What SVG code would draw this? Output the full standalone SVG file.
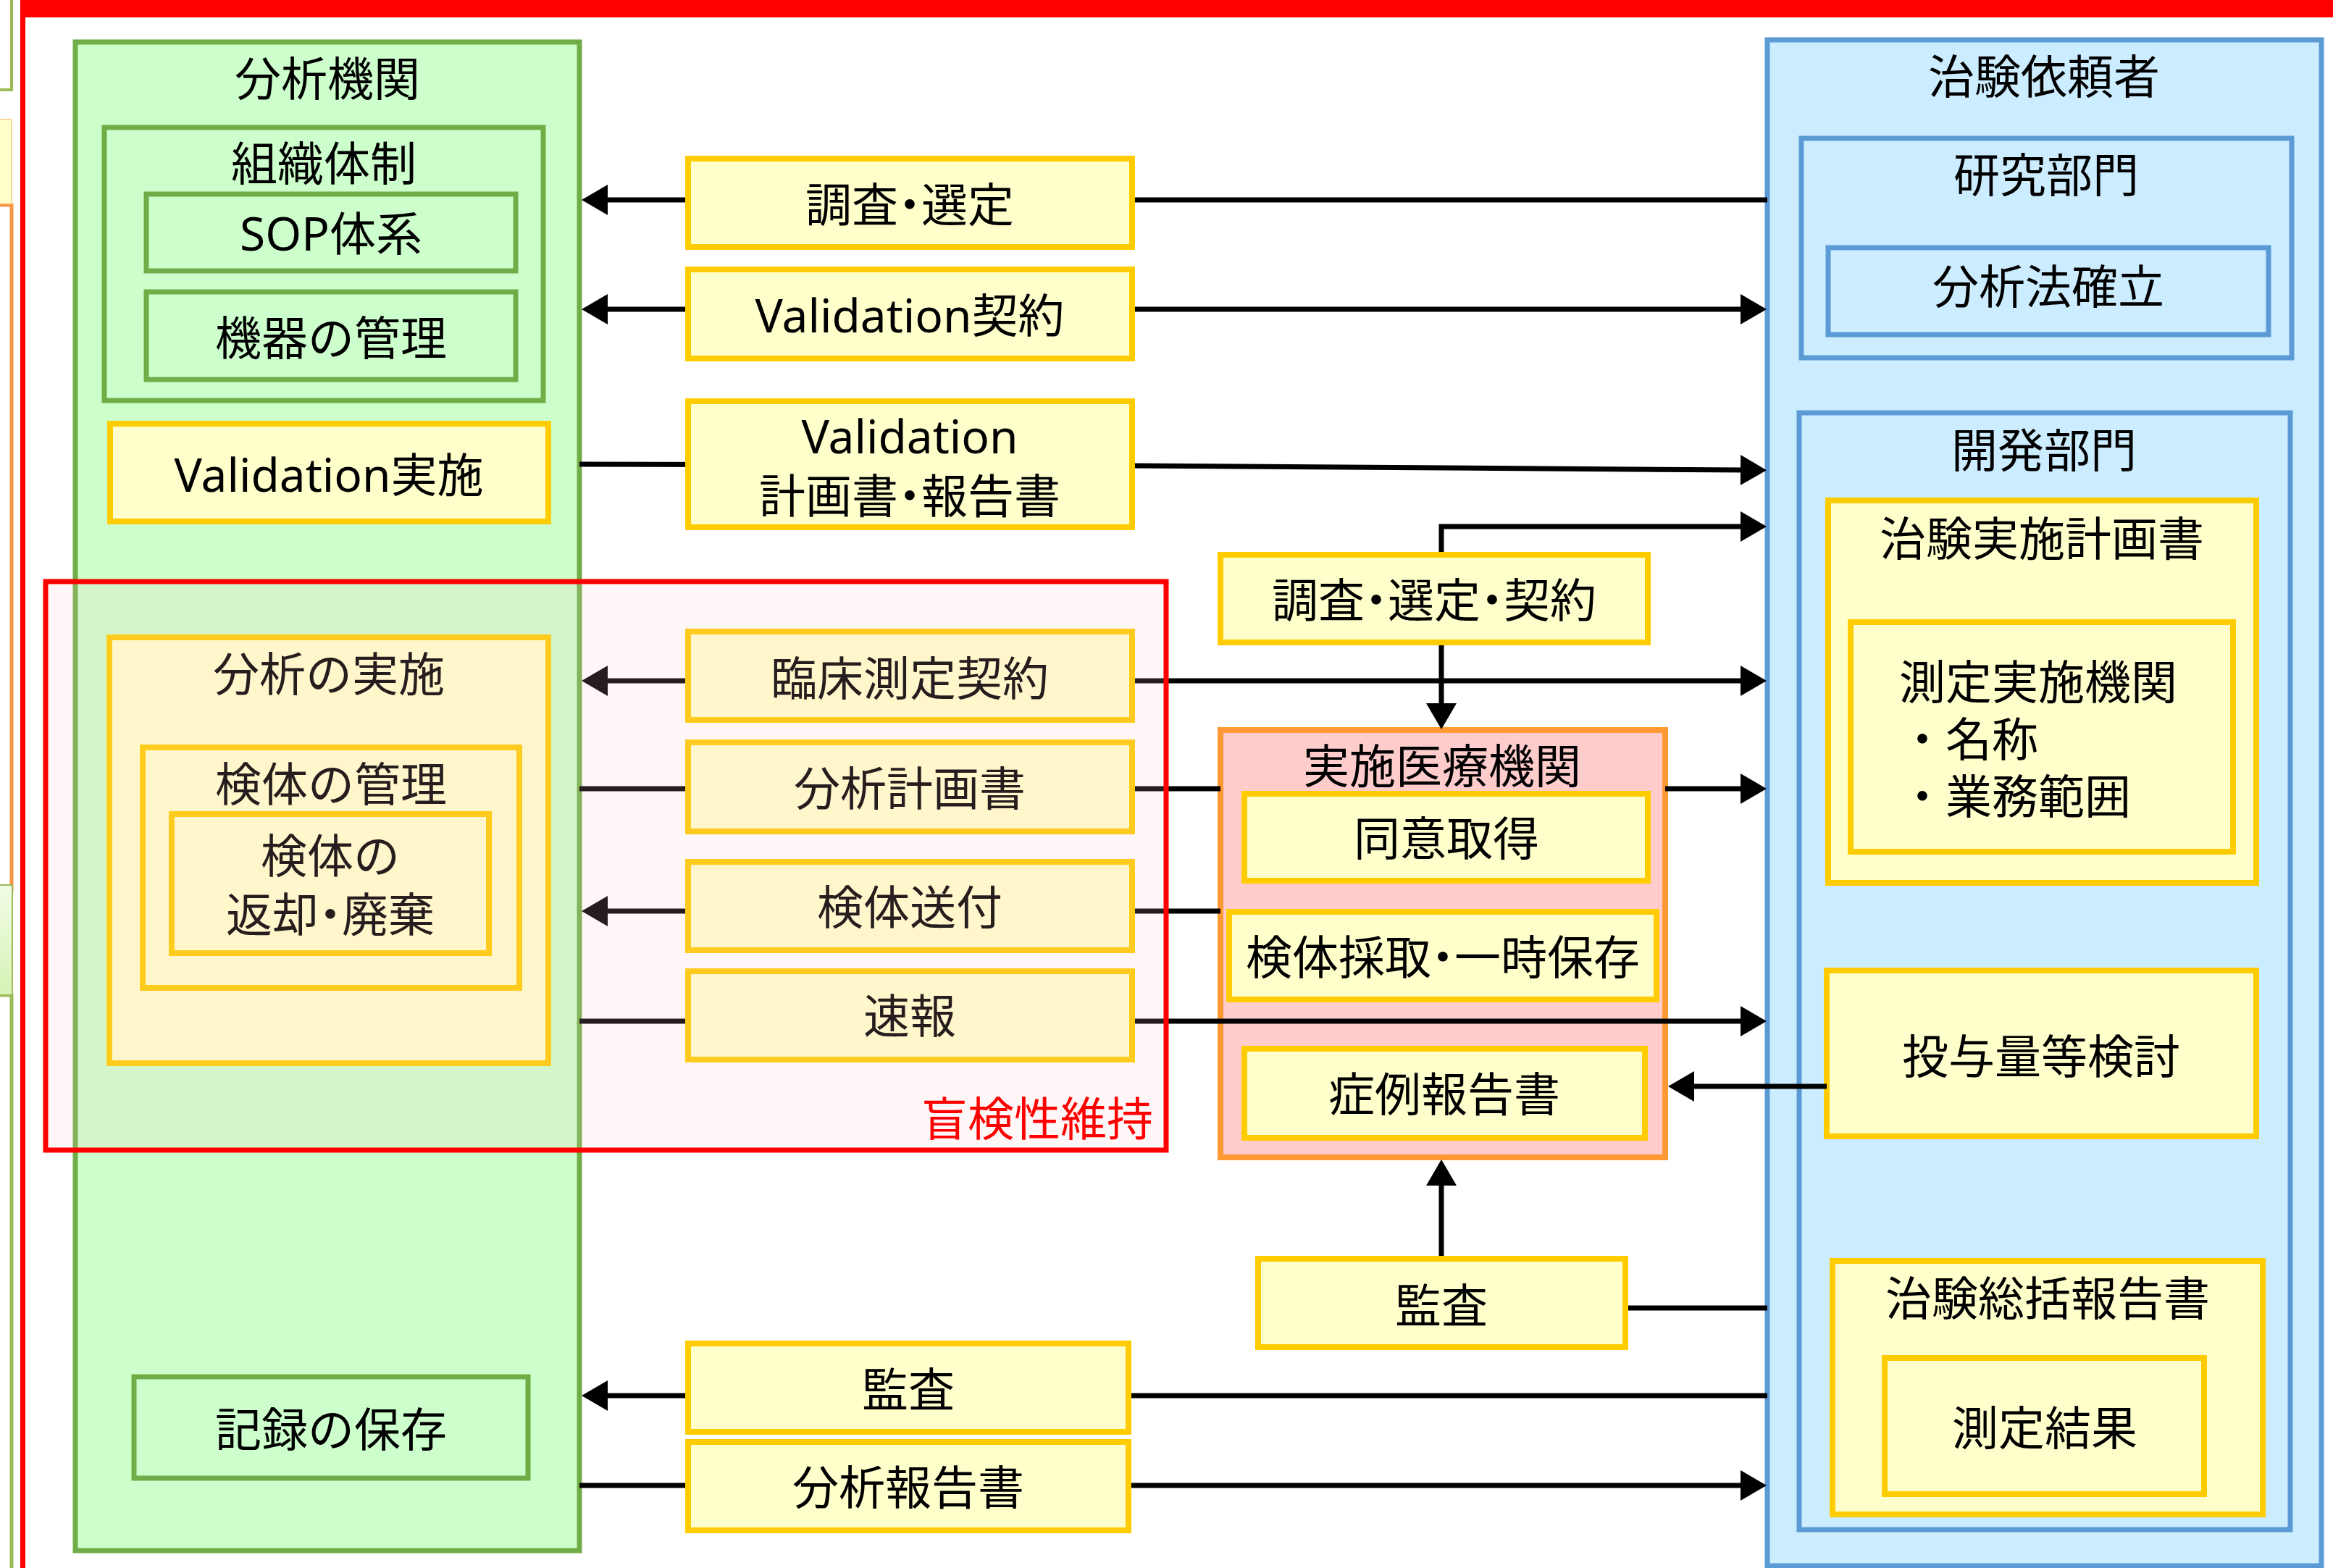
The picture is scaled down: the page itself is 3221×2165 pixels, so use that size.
<svg xmlns="http://www.w3.org/2000/svg" width="3221" height="2165" viewBox="0 0 3221 2165">
<style>
.t{font-family:"Noto Sans","Noto Sans CJK JP",sans-serif;font-size:64px;fill:#000;text-anchor:middle;dominant-baseline:central}
.p{font-feature-settings:"palt"}
.ts{text-anchor:start}
.g{fill:#CCFFCC;stroke:#70AD47;stroke-width:7}
.y{fill:#FFFFCC;stroke:#FFCC00;stroke-width:8}
.b{fill:#CCECFF;stroke:#5B9BD5;stroke-width:7}
.o{fill:#FFCCCC;stroke:#FF9933;stroke-width:8}
.c{fill:none;stroke:#000;stroke-width:7}
.a{marker-end:url(#ah)}
.a2{marker-start:url(#ah);marker-end:url(#ah)}
</style>
<defs>
<marker id="ah" markerUnits="userSpaceOnUse" markerWidth="40" markerHeight="42" refX="6" refY="21" orient="auto-start-reverse" overflow="visible"><path d="M0,0 L36,21 L0,42 z" fill="#000"/></marker>
<linearGradient id="lg" x1="0" y1="0" x2="0" y2="1"><stop offset="0" stop-color="#F2FCE6"/><stop offset="1" stop-color="#D6F3B5"/></linearGradient>
</defs>
<rect x="0" y="0" width="3221" height="2165" fill="#fff"/>
<g id="edge-fragments">
<rect x="-100" y="-20" width="116" height="144" fill="#fff" stroke="#9BBB59" stroke-width="4"/>
<rect x="-100" y="283" width="116" height="947" fill="#fff" stroke="#F79646" stroke-width="5"/>
<rect x="-20" y="165" width="36" height="116" fill="#FFFFCC" stroke="#FAD89A" stroke-width="2"/>
<rect x="-100" y="1374" width="116" height="900" fill="#fff" stroke="#9BBB59" stroke-width="5"/>
<rect x="-20" y="1222" width="37" height="152" fill="url(#lg)" stroke="#9BBB59" stroke-width="2"/>
</g>
<g id="frame">
<rect x="28" y="-10" width="3210" height="34" fill="#FF0000"/>
<rect x="28" y="0" width="7" height="2165" fill="#FF0000"/>
</g>
<g id="bunseki-kikan"><rect class="g" x="104" y="58" width="696" height="2083"/><text class="t" x="452" y="107">分析機関</text></g>
<g id="soshiki-taisei"><rect class="g" x="144" y="176" width="606" height="377"/><text class="t" x="447" y="224">組織体制</text></g>
<g id="sop"><rect class="g" x="202" y="268" width="510" height="106"/><text class="t" x="457" y="321">SOP体系</text></g>
<g id="kiki-kanri"><rect class="g" x="202" y="403" width="510" height="121"/><text class="t" x="457" y="465">機器の管理</text></g>
<g id="validation-jisshi"><rect class="y" x="152" y="585" width="605" height="135"/><text class="t" x="454" y="654">Validation実施</text></g>
<g id="bunseki-jisshi"><rect class="y" x="151" y="880" width="606" height="588"/><text class="t" x="454" y="929">分析の実施</text></g>
<g id="kentai-kanri"><rect class="y" x="197" y="1032" width="520" height="332"/><text class="t" x="457" y="1081">検体の管理</text></g>
<g id="kentai-henkyaku"><rect class="y" x="237" y="1124" width="438" height="192"/><text class="t" x="456" y="1180">検体の</text><text class="t p" x="456" y="1261">返却・廃棄</text></g>
<g id="kiroku"><rect class="g" x="185" y="1901" width="544" height="140"/><text class="t" x="457" y="1972">記録の保存</text></g>
<g id="chiken-iraisha"><rect class="b" x="2440" y="55" width="765" height="2107"/><text class="t" x="2822" y="104">治験依頼者</text></g>
<g id="kenkyu-bumon"><rect class="b" x="2487" y="191" width="677" height="303"/><text class="t" x="2825" y="240">研究部門</text></g>
<g id="bunsekiho"><rect class="b" x="2524" y="342" width="608" height="120"/><text class="t" x="2828" y="394">分析法確立</text></g>
<g id="kaihatsu-bumon"><rect class="b" x="2484" y="570" width="678" height="1542"/><text class="t" x="2822" y="620">開発部門</text></g>
<g id="protocol"><rect class="y" x="2524" y="691" width="591" height="528"/><text class="t" x="2819" y="742">治験実施計画書</text></g>
<g id="sokutei-kikan"><rect class="y" x="2555" y="859" width="528" height="317"/><text class="t ts" x="2622" y="940">測定実施機関</text><text class="t ts" x="2622" y="1019">・名称</text><text class="t ts" x="2622" y="1098">・業務範囲</text></g>
<g id="toyoryo"><rect class="y" x="2522" y="1340" width="593" height="229"/><text class="t" x="2818" y="1457">投与量等検討</text></g>
<g id="sokatsu"><rect class="y" x="2530" y="1741" width="594" height="350"/><text class="t" x="2827" y="1791">治験総括報告書</text></g>
<g id="sokutei-kekka"><rect class="y" x="2602" y="1875" width="441" height="188"/><text class="t" x="2823" y="1970">測定結果</text></g>
<g id="jisshi-iryo"><rect class="o" x="1685" y="1008" width="614" height="590"/><text class="t" x="1991" y="1056">実施医療機関</text></g>
<g id="doi"><rect class="y" x="1718" y="1096" width="557" height="120"/><text class="t" x="1997" y="1156">同意取得</text></g>
<g id="kentai-saishu"><rect class="y" x="1697" y="1259" width="590" height="121"/><text class="t p" x="1992" y="1320">検体採取・一時保存</text></g>
<g id="shorei"><rect class="y" x="1718" y="1448" width="553" height="123"/><text class="t" x="1994" y="1509">症例報告書</text></g>
<g id="connectors">
<path class="c a" d="M2440,276 H833"/>
<path class="c a2" d="M833,427 H2409"/>
<path class="c a" d="M800,641 L1563,643 L2409,649"/>
<path class="c a" d="M1990,766 V727 H2409"/>
<path class="c a" d="M1990,887 V977"/>
<path class="c a2" d="M833,940 H2409"/>
<path class="c" d="M800,1089 H1685"/>
<path class="c a" d="M2299,1089 H2409"/>
<path class="c a" d="M1685,1258 H833"/>
<path class="c a" d="M800,1410 H2409"/>
<path class="c a" d="M2522,1500 H2333"/>
<path class="c a" d="M1990,1738 V1631"/>
<path class="c" d="M2244,1806 H2440"/>
<path class="c a" d="M2440,1927 H833"/>
<path class="c a" d="M800,2051 H2409"/>
</g>
<g id="chosa-sentei"><rect class="y" x="950" y="219" width="613" height="122"/><text class="t p" x="1256" y="281">調査・選定</text></g>
<g id="validation-keiyaku"><rect class="y" x="950" y="372" width="613" height="123"/><text class="t" x="1256" y="434">Validation契約</text></g>
<g id="validation-keikaku"><rect class="y" x="950" y="554" width="613" height="174"/><text class="t" x="1256" y="601">Validation</text><text class="t p" x="1256" y="683">計画書・報告書</text></g>
<g id="chosa-sentei-keiyaku"><rect class="y" x="1685" y="766" width="590" height="121"/><text class="t p" x="1980" y="827">調査・選定・契約</text></g>
<g id="rinsho-keiyaku"><rect class="y" x="950" y="872" width="613" height="122"/><text class="t" x="1256" y="935">臨床測定契約</text></g>
<g id="bunseki-keikaku"><rect class="y" x="950" y="1025" width="613" height="123"/><text class="t" x="1256" y="1087">分析計画書</text></g>
<g id="kentai-sofu"><rect class="y" x="950" y="1190" width="613" height="122"/><text class="t" x="1256" y="1251">検体送付</text></g>
<g id="sokuho"><rect class="y" x="950" y="1341" width="613" height="122"/><text class="t" x="1256" y="1401">速報</text></g>
<g id="kansa-iryo"><rect class="y" x="1737" y="1738" width="507" height="122"/><text class="t" x="1990" y="1801">監査</text></g>
<g id="kansa-bunseki"><rect class="y" x="950" y="1855" width="608" height="122"/><text class="t" x="1254" y="1917">監査</text></g>
<g id="bunseki-hokoku"><rect class="y" x="950" y="1991" width="608" height="122"/><text class="t" x="1254" y="2052">分析報告書</text></g>
<g id="mokensei"><rect x="63" y="803" width="1547" height="785" fill="#FFC8C8" fill-opacity="0.15" stroke="#FF0000" stroke-width="7"/><text class="t" x="1592" y="1543" style="text-anchor:end;fill:#FF0000">盲検性維持</text></g>
</svg>
